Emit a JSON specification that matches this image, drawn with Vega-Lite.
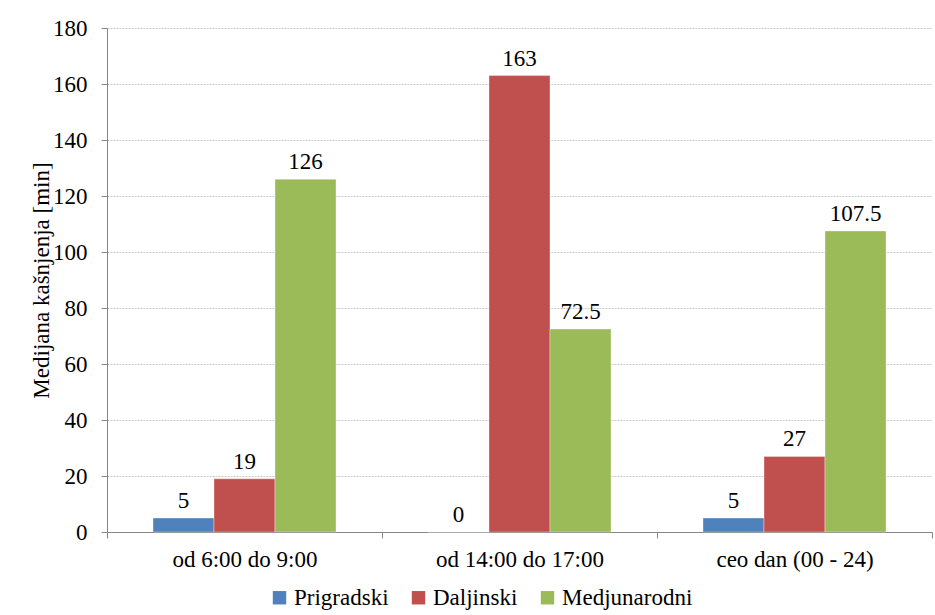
{
  "$schema": "https://vega.github.io/schema/vega-lite/v6.json",
  "width": 825,
  "height": 504,
  "autosize": {"type": "none"},
  "padding": {"left": 107, "top": 28, "right": 3, "bottom": 83},
  "background": "white",
  "data": {
    "values": [
      {"period": "od 6:00 do 9:00", "tip": "Prigradski", "median": 5},
      {"period": "od 6:00 do 9:00", "tip": "Daljinski", "median": 19},
      {"period": "od 6:00 do 9:00", "tip": "Medjunarodni", "median": 126},
      {"period": "od 14:00 do 17:00", "tip": "Prigradski", "median": 0},
      {"period": "od 14:00 do 17:00", "tip": "Daljinski", "median": 163},
      {"period": "od 14:00 do 17:00", "tip": "Medjunarodni", "median": 72.5},
      {"period": "ceo dan (00 - 24)", "tip": "Prigradski", "median": 5},
      {"period": "ceo dan (00 - 24)", "tip": "Daljinski", "median": 27},
      {"period": "ceo dan (00 - 24)", "tip": "Medjunarodni", "median": 107.5}
    ]
  },
  "encoding": {
    "x": {
      "field": "period",
      "type": "nominal",
      "sort": ["od 6:00 do 9:00", "od 14:00 do 17:00", "ceo dan (00 - 24)"],
      "scale": {"paddingInner": 0, "paddingOuter": 0},
      "axis": {
        "title": null,
        "labelAngle": 0,
        "labelLimit": 300,
        "tickBand": "extent",
        "tickSize": 6,
        "labelPadding": 10,
        "labelFontSize": 23,
        "labelBaseline": "top"
      }
    },
    "xOffset": {
      "field": "tip",
      "type": "nominal",
      "sort": ["Prigradski", "Daljinski", "Medjunarodni"],
      "scale": {"paddingInner": 0, "paddingOuter": 0.754}
    },
    "y": {
      "field": "median",
      "type": "quantitative",
      "scale": {"domain": [0, 180], "nice": false},
      "axis": {
        "title": "Medijana kašnjenja [min]",
        "values": [0, 20, 40, 60, 80, 100, 120, 140, 160, 180],
        "grid": true,
        "gridColor": "#c8c8c8",
        "gridDash": [2, 1],
        "tickSize": 6,
        "labelPadding": 14,
        "labelFontSize": 23,
        "titleFontSize": 23,
        "titleFontWeight": "normal",
        "titlePadding": -1
      }
    }
  },
  "layer": [
    {
      "mark": {"type": "bar", "stroke": "white", "strokeOpacity": 0.35, "strokeWidth": 1},
      "encoding": {
        "color": {
          "field": "tip",
          "type": "nominal",
          "scale": {
            "domain": ["Prigradski", "Daljinski", "Medjunarodni"],
            "range": ["#4F81BD", "#C0504D", "#9BBB59"]
          },
          "legend": {
            "title": null,
            "orient": "none",
            "direction": "horizontal",
            "legendX": 161,
            "legendY": 558,
            "symbolType": "square",
            "symbolSize": 180,
            "symbolStrokeWidth": 0,
            "labelFontSize": 23,
            "labelOffset": 3,
            "columnPadding": 18
          }
        }
      }
    },
    {
      "mark": {"type": "text", "baseline": "bottom", "dy": -5, "fontSize": 23},
      "encoding": {
        "text": {"field": "median", "type": "quantitative", "format": "~g"}
      }
    }
  ],
  "config": {
    "font": "Liberation Serif",
    "view": {"stroke": null},
    "axis": {
      "domainColor": "#868686",
      "tickColor": "#868686",
      "labelColor": "black",
      "titleColor": "black",
      "labelFont": "Liberation Serif",
      "titleFont": "Liberation Serif"
    },
    "legend": {"labelFont": "Liberation Serif", "labelColor": "black"},
    "text": {"font": "Liberation Serif", "color": "black"}
  }
}
